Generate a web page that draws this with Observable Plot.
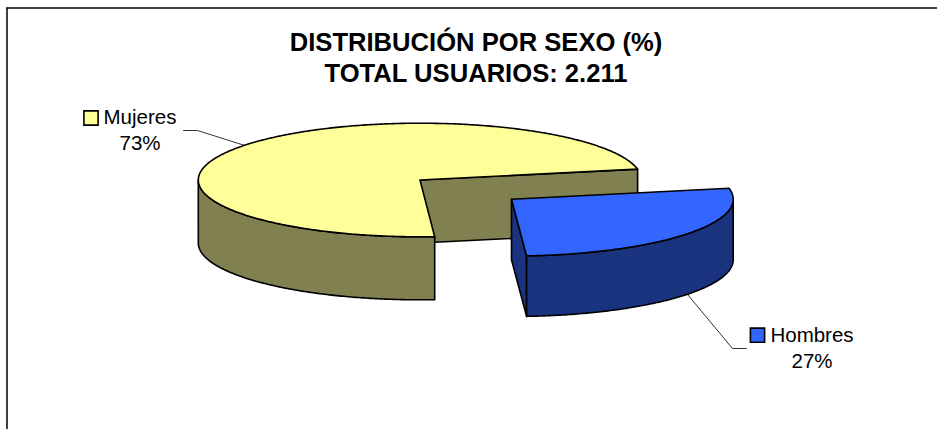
<!DOCTYPE html>
<html><head><meta charset="utf-8">
<style>html,body{margin:0;padding:0;background:#fff}svg{display:block}</style>
<script src="https://cdn.jsdelivr.net/npm/d3@7"></script>
<script src="https://cdn.jsdelivr.net/npm/@observablehq/plot@0.6"></script>
</head><body><div id="c"></div>
<script>
const categories = ["Mujeres", "Hombres"];
const shares = [73, 27];
const titleLines = ["DISTRIBUCIÓN POR SEXO (%)", "TOTAL USUARIOS: 2.211"];
const topColors = ["#FFFF99", "#3366FF"];
const sideColors = ["#808050", "#1A337F"];

const W = 937, H = 429;
const rx = 221.7, ry = 56.8;
const depths = [63, 60.5];
const centers = [[419.5, 179.5], [511, 198.7]];
const startDeg = [11, -86.1]; // counter-clockwise start of each slice
const rad = d => d * Math.PI / 180;
const pt = (c, a, dy = 0) => ({x: c[0] + rx * Math.cos(rad(a)), y: c[1] - ry * Math.sin(rad(a)) + dy});
const arc = (c, a0, a1, dy = 0) => {
  const n = Math.max(2, Math.ceil(Math.abs(a1 - a0) * 1.5));
  return d3.range(n + 1).map(i => pt(c, a0 + (a1 - a0) * i / n, dy));
};
const apex = (c, dy = 0) => ({x: c[0], y: c[1] + dy});
const polys = [];
const add = (pts, fill) => polys.push({pts: [...pts, pts[0]], fill});

shares.forEach((s, i) => {
  const c = centers[i], a0 = startDeg[i], a1 = a0 + s * 3.6, depth = depths[i];
  const top = [apex(c), ...arc(c, a0, a1)];
  // cut face from the apex to the slice start
  add([apex(c), pt(c, a0), pt(c, a0, depth), apex(c, depth)], sideColors[i]);
  if (i === 0) {
    // outer wall: from the left extreme round to the front end
    add([...arc(c, 180, a1), ...arc(c, a1, 180, depth)], sideColors[i]);
  } else {
    // outer wall: from the front end round to the right extreme
    add([...arc(c, a0, 0), ...arc(c, 0, a0, depth)], sideColors[i]);
  }
  add(top, topColors[i]);
});

const rows = polys.flatMap((p, k) => p.pts.map(q => ({...q, k, fill: p.fill})));

// leaders start on the slice edge at mid-angle
const mid = shares.map((s, i) => startDeg[i] + s * 1.8);
const a = pt(centers[0], mid[0]);
const b = pt(centers[1], mid[1], depths[1]);
const leaders = [
  [{x: a.x, y: a.y}, {x: 197, y: 130}, {x: 183, y: 130}],
  [{x: b.x, y: b.y}, {x: 732, y: 348}, {x: 746, y: 348}]
].flatMap((l, k) => l.map(q => ({...q, k})));

const labels = [
  {x: 139.5, y: 116.7, name: categories[0], pct: shares[0] + "%", kx: 90.5, ky: 117.5, i: 0},
  {x: 811.5, y: 335.1, name: categories[1], pct: shares[1] + "%", kx: 757, ky: 334.7, i: 1}
];
const font = "'Liberation Sans', Arial, sans-serif";

const chart = Plot.plot({
  width: W, height: H, margin: 0,
  style: {fontFamily: font, background: "#fff", color: "#000"},
  x: {domain: [0, W], range: [0, W], axis: null},
  y: {domain: [0, H], range: [0, H], axis: null},
  marks: [
    Plot.ruleY([7.5], {stroke: "#000", strokeWidth: 1.5, x1: 6.5, x2: W}),
    Plot.ruleX([6.5], {stroke: "#000", strokeWidth: 1.5, y1: 7.5, y2: H}),
    Plot.line(rows, {x: "x", y: "y", z: "k", fill: "fill", stroke: "#000", strokeWidth: 1.6, curve: "linear", strokeLinejoin: "round"}),
    Plot.line(leaders, {x: "x", y: "y", z: "k", stroke: "#000", strokeWidth: 0.8}),
    Plot.text(titleLines, {x: () => 475.5, y: (d, i) => 41.8 + i * 31, text: d => d, fontSize: 25.6, fontWeight: "bold", fill: "#000"}),
    Plot.text(labels, {x: "x", y: "y", text: "name", fontSize: 20.5, fill: "#000"}),
    Plot.text(labels, {x: "x", y: d => d.y + 26, text: "pct", fontSize: 20.5, fill: "#000"}),
    Plot.dot(labels, {x: "kx", y: "ky", symbol: "square", r: 8, fill: d => topColors[d.i], stroke: "#000", strokeWidth: 1.6})
  ]
});
document.getElementById("c").append(chart);
</script></body></html>
